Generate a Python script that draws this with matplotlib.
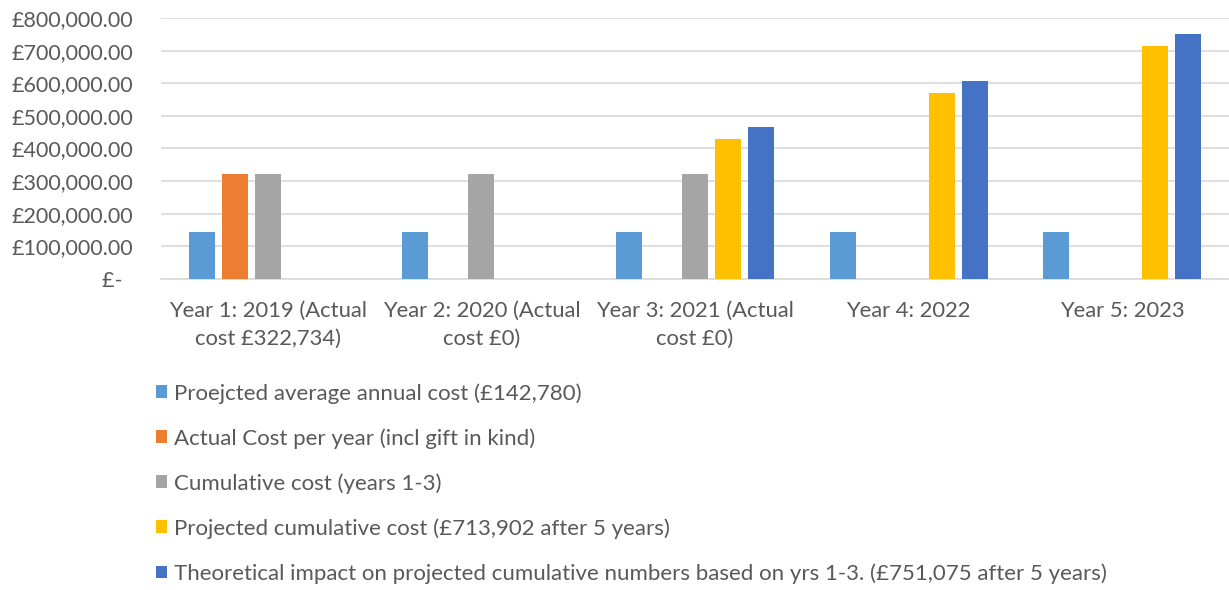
import matplotlib
matplotlib.use("Agg")
from matplotlib import pyplot as plt
from matplotlib.ticker import FuncFormatter
import numpy as np

plt.rcParams['font.family'] = ['Lato', 'DejaVu Sans']

categories = ["Year 1: 2019 (Actual\ncost £322,734)", "Year 2: 2020 (Actual\ncost £0)",
              "Year 3: 2021 (Actual\ncost £0)", "Year 4: 2022", "Year 5: 2023"]

series_names = ["Proejcted average annual cost (£142,780)",
                "Actual Cost per year (incl gift in kind)",
                "Cumulative cost (years 1-3)",
                "Projected cumulative cost (£713,902 after 5 years)",
                "Theoretical impact on projected cumulative numbers based on yrs 1-3. (£751,075 after 5 years)"]

projected_avg = [142780, 142780, 142780, 142780, 142780]
actual_cost = [322734, 0, 0, 0, 0]
cumulative = [322734, 322734, 322734, 0, 0]
projected_cum = [0, 0, 428341, 571122, 713902]
theoretical = [0, 0, 465515, 608295, 751075]

colors = ["#5B9BD5", "#ED7D31", "#A5A5A5", "#FFC000", "#4472C4"]
text_col = "#595959"

fig = plt.figure(figsize=(12.29, 5.9), dpi=100)
ax = fig.add_axes((161/1229, (590-279)/590, (1229-161)/1229, (279-18)/590))

x = np.arange(len(categories))
step = 0.1545
width = 0.122
handles = []
for i, vals in enumerate([projected_avg, actual_cost, cumulative, projected_cum, theoretical]):
    vals = np.array(vals, dtype=float)
    h = ax.bar(x + (i - 2) * step, np.where(vals > 0, vals, np.nan), width, color=colors[i],
               label=series_names[i], zorder=3)
    handles.append(h)

ax.set_xlim(-0.5, len(categories) - 0.5)
ax.set_ylim(0, 800000)
ax.set_yticks(np.arange(0, 800001, 100000))
ax.yaxis.set_major_formatter(FuncFormatter(lambda v, p: "£-  " if v == 0 else "£{:,.2f}".format(v)))
ax.grid(axis='y', color="#D9D9D9", linewidth=1.2, zorder=0)
for s in ['top', 'right', 'left']:
    ax.spines[s].set_visible(False)
ax.spines['bottom'].set_color("#D9D9D9")
ax.spines['bottom'].set_linewidth(1.2)
ax.set_xticks(x)
ax.set_xticklabels(categories, linespacing=1.5)
ax.tick_params(axis='both', length=0, colors=text_col)
ax.tick_params(axis='x', pad=16, labelsize=15.8)
ax.tick_params(axis='y', pad=20, labelsize=15.5)

fig.legend(handles=handles, loc='upper left', bbox_to_anchor=(156/1229, 1 - 383/590),
           ncol=1, frameon=False, fontsize=16, labelcolor=text_col,
           handlelength=0.5, handleheight=0.5, handletextpad=0.3, labelspacing=1.1,
           borderaxespad=0, borderpad=0)

fig.savefig("out.png", dpi=100)
